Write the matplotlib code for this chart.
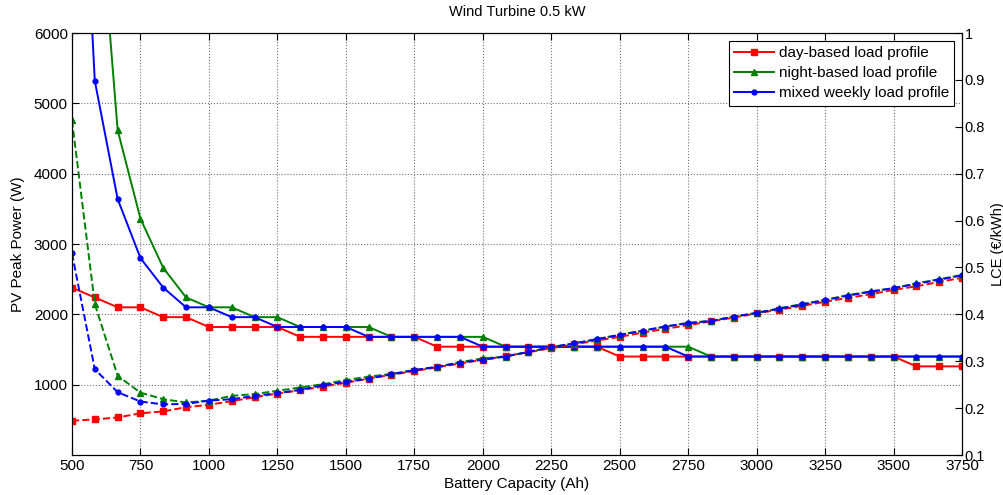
import matplotlib
matplotlib.use("Agg")
import matplotlib.pyplot as plt

plt.rcParams['font.family'] = ['Liberation Sans', 'DejaVu Sans']

# Battery capacity steps (Ah)
capacity = [500, 583.3, 666.7, 750, 833.3, 916.7, 1000, 1083.3, 1166.7, 1250,
            1333.3, 1416.7, 1500, 1583.3, 1666.7, 1750, 1833.3, 1916.7, 2000, 2083.3,
            2166.7, 2250, 2333.3, 2416.7, 2500, 2583.3, 2666.7, 2750, 2833.3, 2916.7,
            3000, 3083.3, 3166.7, 3250, 3333.3, 3416.7, 3500, 3583.3, 3666.7, 3750]

# PV peak power (W), left axis
pv_day = [2380, 2240, 2100, 2100, 1960, 1960, 1820, 1820, 1820, 1820,
          1680, 1680, 1680, 1680, 1680, 1680, 1540, 1540, 1540, 1540,
          1540, 1540, 1540, 1540, 1400, 1400, 1400, 1400, 1400, 1400,
          1400, 1400, 1400, 1400, 1400, 1400, 1400, 1260, 1260, 1260]
pv_night = [14000, 8680, 4620, 3360, 2660, 2240, 2100, 2100, 1960, 1960,
            1820, 1820, 1820, 1820, 1680, 1680, 1680, 1680, 1680, 1540,
            1540, 1540, 1540, 1540, 1540, 1540, 1540, 1540, 1400, 1400,
            1400, 1400, 1400, 1400, 1400, 1400, 1400, 1400, 1400, 1400]
pv_mixed = [11600, 5320, 3640, 2800, 2380, 2100, 2100, 1960, 1960, 1820,
            1820, 1820, 1820, 1680, 1680, 1680, 1680, 1680, 1540, 1540,
            1540, 1540, 1540, 1540, 1540, 1540, 1540, 1400, 1400, 1400,
            1400, 1400, 1400, 1400, 1400, 1400, 1400, 1400, 1400, 1400]

# Levelised cost of energy (EUR/kWh), right axis
lce_day = [0.173, 0.176, 0.180, 0.189, 0.193, 0.202, 0.207, 0.215, 0.223, 0.231,
           0.238, 0.246, 0.254, 0.263, 0.271, 0.279, 0.287, 0.295, 0.303, 0.311,
           0.319, 0.328, 0.336, 0.344, 0.352, 0.361, 0.369, 0.377, 0.385, 0.393,
           0.402, 0.410, 0.418, 0.427, 0.435, 0.443, 0.452, 0.460, 0.469, 0.478]
lce_night = [0.814, 0.422, 0.269, 0.233, 0.219, 0.212, 0.216, 0.226, 0.230, 0.237,
             0.244, 0.251, 0.260, 0.267, 0.273, 0.281, 0.288, 0.298, 0.306, 0.310,
             0.320, 0.330, 0.338, 0.347, 0.357, 0.365, 0.374, 0.382, 0.386, 0.395,
             0.403, 0.413, 0.422, 0.431, 0.441, 0.449, 0.456, 0.466, 0.475, 0.484]
lce_mixed = [0.530, 0.283, 0.234, 0.214, 0.208, 0.209, 0.216, 0.219, 0.226, 0.232,
             0.239, 0.249, 0.256, 0.263, 0.272, 0.281, 0.288, 0.297, 0.303, 0.310,
             0.320, 0.330, 0.338, 0.347, 0.356, 0.365, 0.374, 0.381, 0.386, 0.395,
             0.403, 0.412, 0.421, 0.430, 0.440, 0.448, 0.456, 0.465, 0.474, 0.483]

RED = (1, 0, 0)
GREEN = (0, 0.5, 0)
BLUE = (0, 0, 1)

fig = plt.figure(figsize=(10.04, 4.95), dpi=100)
ax = fig.add_axes([0.0717, 0.0808, 0.8865, 0.8525])
ax2 = ax.twinx()

# solid lines: PV size, dashed lines: LCE
h1, = ax.plot(capacity, pv_day, '-', color=RED, marker='s', ms=4, lw=1.4,
              label='day-based load profile')
h2, = ax.plot(capacity, pv_night, '-', color=GREEN, marker='^', ms=4.5, lw=1.4,
              label='night-based load profile')
h3, = ax.plot(capacity, pv_mixed, '-', color=BLUE, marker='o', ms=3.5, lw=1.4,
              label='mixed weekly load profile')

ax2.plot(capacity, lce_day, '--', color=RED, marker='s', ms=4, lw=1.4)
ax2.plot(capacity, lce_night, '--', color=GREEN, marker='^', ms=4.5, lw=1.4)
ax2.plot(capacity, lce_mixed, '--', color=BLUE, marker='o', ms=3.5, lw=1.4)

ax.set_xlim(500, 3750)
ax.set_ylim(0, 6000)
ax.set_xticks(range(500, 3751, 250))
ax.set_yticks(range(1000, 6001, 1000))
ax2.set_ylim(0.1, 1)
ax2.set_yticks([0.1, 0.2, 0.3, 0.4, 0.5, 0.6, 0.7, 0.8, 0.9, 1])
ax2.set_yticklabels(['0.1', '0.2', '0.3', '0.4', '0.5', '0.6', '0.7', '0.8', '0.9', '1'])

ax.grid(True, linestyle=':', color='0.45', lw=0.8)
for a in (ax, ax2):
    a.tick_params(direction='in', length=5, labelsize=11, width=0.8, pad=3)
    for s in a.spines.values():
        s.set_linewidth(0.8)
ax.tick_params(top=True)
ax2.tick_params(labelsize=10.5, pad=2)

ax.set_xlabel('Battery Capacity (Ah)', fontsize=11, labelpad=3)
ax.set_ylabel('PV Peak Power (W)', fontsize=11, labelpad=6)
ax2.set_ylabel('LCE (€/kWh)', fontsize=10.5, rotation=90, va='center')
ax2.yaxis.set_label_coords(1.0405, 0.5)
ax.set_title('Wind Turbine 0.5 kW', fontsize=10.5, pad=12)

leg = ax2.legend([h1, h2, h3], [h.get_label() for h in (h1, h2, h3)],
                 loc='upper right', fontsize=11, fancybox=False, framealpha=1,
                 edgecolor='black', handlelength=2.6, handletextpad=0.3,
                 borderpad=0.35, labelspacing=0.4, borderaxespad=0.5)
leg.get_frame().set_linewidth(0.8)

fig.savefig('out.png', dpi=100)
